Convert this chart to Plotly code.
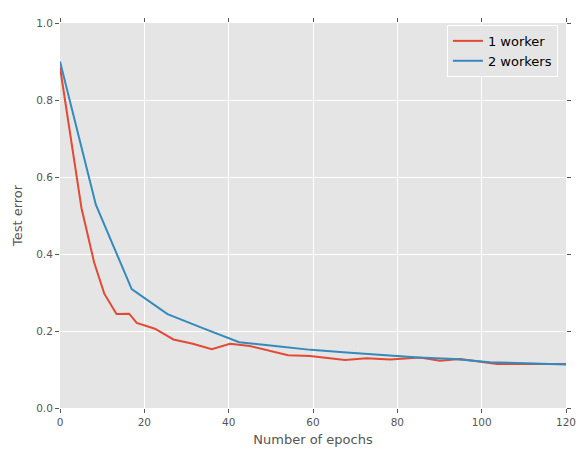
import plotly.graph_objects as go

epochs_1 = [0, 5.1, 8.1, 10.5, 13.4, 16.4, 18.2, 22.5, 26.9, 31.5, 36, 40.3, 45, 54.1, 59.3, 67.6, 72.7, 78.3, 85.4, 90.1, 94.9, 103.6, 120]
error_1 = [0.885, 0.519, 0.378, 0.297, 0.244, 0.245, 0.221, 0.206, 0.178, 0.167, 0.153, 0.167, 0.161, 0.137, 0.135, 0.125, 0.129, 0.126, 0.131, 0.123, 0.127, 0.114, 0.114]

epochs_2 = [0, 8.5, 17, 25.5, 34, 42.5, 51, 59.5, 68, 76.5, 85, 93.5, 102, 110.5, 120]
error_2 = [0.90, 0.528, 0.309, 0.244, 0.207, 0.171, 0.161, 0.151, 0.144, 0.137, 0.131, 0.127, 0.119, 0.116, 0.113]

x_ticks = [0, 20, 40, 60, 80, 100, 120]
y_ticks = [0.0, 0.2, 0.4, 0.6, 0.8, 1.0]

fig = go.Figure()
fig.add_trace(go.Scatter(x=epochs_1, y=error_1, mode="lines", name="1 worker",
                         line=dict(color="#E24A33", width=2)))
fig.add_trace(go.Scatter(x=epochs_2, y=error_2, mode="lines", name="2 workers",
                         line=dict(color="#348ABD", width=2)))

axis_common = dict(showgrid=True, gridcolor="white", gridwidth=1, zeroline=False,
                   ticks="outside", ticklen=4, tickcolor="#555555", mirror="ticks",
                   showline=False, tickfont=dict(size=10.5, color="#555555"))

fig.update_layout(
    width=578, height=448,
    margin=dict(l=52, r=20, t=9, b=48),
    paper_bgcolor="white", plot_bgcolor="#E5E5E5",
    font=dict(family="DejaVu Sans", color="#555555"),
    xaxis=dict(range=[0, 120], tickvals=x_ticks, ticktext=[str(v) for v in x_ticks],
               title=dict(text="Number of epochs", font=dict(size=13, color="#555555"), standoff=8),
               **axis_common),
    yaxis=dict(range=[0, 1.0], tickvals=y_ticks, ticktext=[f"{v:.1f}" for v in y_ticks],
               title=dict(text="Test error", font=dict(size=13, color="#555555"), standoff=10),
               **axis_common),
    legend=dict(x=0.984, y=0.995, xanchor="right", yanchor="top",
                bgcolor="#E5E5E5", bordercolor="white", borderwidth=1,
                tracegroupgap=0, itemwidth=30,
                font=dict(size=13, color="black")),
    showlegend=True,
)

fig.write_html("out.html")
